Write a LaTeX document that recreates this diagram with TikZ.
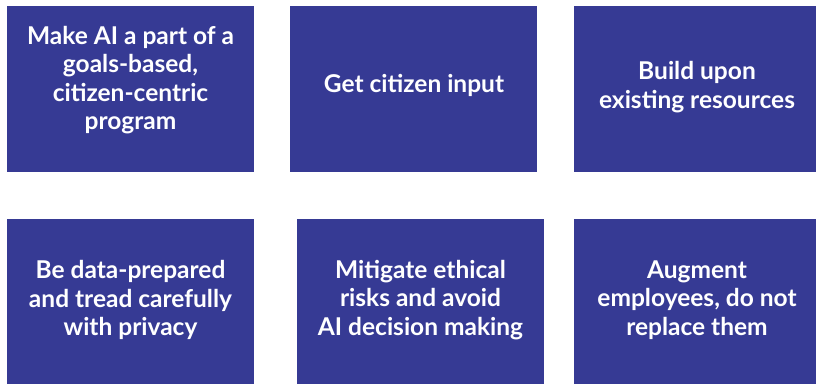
\documentclass[tikz,border=0pt]{standalone}
\usepackage{fontspec}
\setmainfont{Lato}
\definecolor{boxblue}{HTML}{363A94}
\begin{document}
\begin{tikzpicture}[x=1pt,y=-1pt,
  panel/.style={fill=boxblue,draw=none,inner sep=0pt,outer sep=0pt},
  caption/.style={text=white,align=center,font=\fontsize{24.5}{28.5}\selectfont\bfseries,inner sep=0pt}]
\useasboundingbox (0,0) rectangle (816,385);
% top row
\path[panel] (7,6) rectangle (254,172);
\path[panel] (290,6) rectangle (537,172);
\path[panel] (574,6) rectangle (816,172);
% bottom row
\path[panel] (7,219) rectangle (254,384);
\path[panel] (297,219) rectangle (544,384);
\path[panel] (574,219) rectangle (816,384);
% captions
\node[caption] (t1) at (130.5,80) {Make AI a part of a\\goals-based,\\citizen-centric\\program};
\node[caption] (t2) at (414,85) {Get citizen input};
\node[caption] (t3) at (697,87) {Build upon\\existing resources};
\node[caption] (t4) at (130.5,300) {Be data-prepared\\and tread carefully\\with privacy};
\node[caption] (t5) at (420.5,300) {Mitigate ethical\\risks and avoid\\AI decision making};
\node[caption] (t6) at (697,300) {Augment\\employees, do not\\replace them};
\end{tikzpicture}
\end{document}
